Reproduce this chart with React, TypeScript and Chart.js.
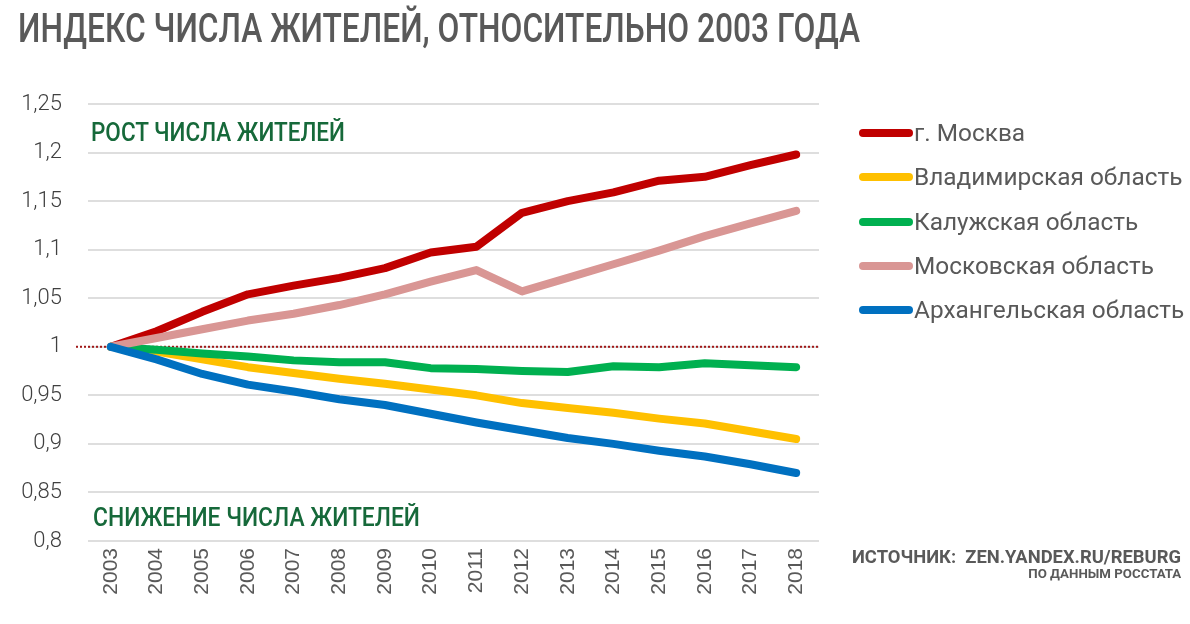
import React, { useEffect, useRef } from 'react';
import { Chart, registerables } from 'chart.js';

Chart.register(...registerables);

const years = ['2003', '2004', '2005', '2006', '2007', '2008', '2009', '2010', '2011', '2012', '2013', '2014', '2015', '2016', '2017', '2018'];

const moscowCity = [1, 1.016, 1.036, 1.054, 1.063, 1.071, 1.081, 1.097, 1.103, 1.138, 1.150, 1.159, 1.171, 1.175, 1.187, 1.198];
const vladimir = [1, 0.995, 0.987, 0.979, 0.973, 0.967, 0.962, 0.956, 0.950, 0.942, 0.937, 0.932, 0.926, 0.921, 0.913, 0.905];
const kaluga = [1, 0.997, 0.993, 0.990, 0.986, 0.984, 0.984, 0.978, 0.977, 0.975, 0.974, 0.980, 0.979, 0.983, 0.981, 0.979];
const moscowRegion = [1, 1.009, 1.018, 1.027, 1.034, 1.043, 1.054, 1.067, 1.079, 1.057, 1.071, 1.085, 1.099, 1.114, 1.127, 1.140];
const arkhangelsk = [1, 0.987, 0.972, 0.961, 0.954, 0.946, 0.940, 0.931, 0.922, 0.914, 0.906, 0.900, 0.893, 0.887, 0.879, 0.870];

const seriesNames = ['г. Москва', 'Владимирская область', 'Калужская область', 'Московская область', 'Архангельская область'];
const seriesValues = [moscowCity, vladimir, kaluga, moscowRegion, arkhangelsk];
const seriesColors = ['#c00000', '#ffc000', '#00b050', '#d99694', '#0070c0'];

const yMin = 0.8;
const yMax = 1.25;
const yStep = 0.05;
const baseline = 1;

const titleText = 'ИНДЕКС ЧИСЛА ЖИТЕЛЕЙ, ОТНОСИТЕЛЬНО 2003 ГОДА';
const growthText = 'РОСТ ЧИСЛА ЖИТЕЛЕЙ';
const declineText = 'СНИЖЕНИЕ ЧИСЛА ЖИТЕЛЕЙ';
const sourceText = 'ИСТОЧНИК:  ZEN.YANDEX.RU/REBURG';
const sourceSubText = 'ПО ДАННЫМ РОССТАТА';

type FitProps = {
  text: string;
  left: number;
  top: number;
  width: number;
  anchorRight?: boolean;
  style: React.CSSProperties;
};

function FitText({ text, left, top, width, anchorRight, style }: FitProps) {
  const ref = useRef<HTMLSpanElement>(null);
  useEffect(() => {
    const el = ref.current;
    if (!el) return;
    el.style.transform = 'none';
    const w = el.getBoundingClientRect().width;
    if (w > 0) el.style.transform = `scaleX(${width / w})`;
  }, [text, width]);
  return (
    <span
      ref={ref}
      style={{
        position: 'absolute',
        left: anchorRight ? undefined : left,
        right: anchorRight ? 1190 - left - width : undefined,
        top,
        whiteSpace: 'pre',
        transformOrigin: anchorRight ? '100% 0' : '0 0',
        lineHeight: 1,
        display: 'inline-block',
        ...style,
      }}
    >
      {text}
    </span>
  );
}

const baselinePlugin = {
  id: 'baselineDots',
  beforeDatasetsDraw(chart: any) {
    const { ctx, chartArea, scales } = chart;
    const y = scales.y.getPixelForValue(baseline);
    ctx.save();
    ctx.strokeStyle = '#a01818';
    ctx.lineWidth = 2;
    ctx.setLineDash([2, 2]);
    ctx.beginPath();
    ctx.moveTo(76, y);
    ctx.lineTo(chartArea.right + 1, y);
    ctx.stroke();
    ctx.restore();
  },
};

export default function App() {
  const canvasRef = useRef<HTMLCanvasElement>(null);

  useEffect(() => {
    if (!canvasRef.current) return;
    const chart = new Chart(canvasRef.current, {
      type: 'line',
      data: {
        labels: years,
        datasets: seriesNames.map((name, i) => ({
          label: name,
          data: seriesValues[i],
          borderColor: seriesColors[i],
          backgroundColor: seriesColors[i],
          borderWidth: 8,
          borderCapStyle: 'round',
          borderJoinStyle: 'round',
          pointRadius: 0,
          tension: 0,
          fill: false,
          order: seriesNames.length - i,
        })),
      },
      options: {
        responsive: false,
        animation: false,
        devicePixelRatio: 1,
        layout: { padding: { top: 104, right: 371, left: 0, bottom: 0 } },
        plugins: { legend: { display: false }, tooltip: { enabled: false }, title: { display: false } },
        scales: {
          x: {
            offset: true,
            grid: { display: false, drawTicks: false },
            border: { display: false },
            ticks: {
              minRotation: 90,
              maxRotation: 90,
              padding: 7,
              color: '#595959',
              font: { family: 'Liberation Sans', size: 21 },
            },
            afterFit(scale: any) {
              scale.height = 83;
            },
          },
          y: {
            min: yMin,
            max: yMax,
            grid: { color: '#dedede', lineWidth: 2, drawTicks: false },
            border: { display: false },
            ticks: {
              stepSize: yStep,
              padding: 26,
              color: '#404040',
              font: { family: 'Roboto', size: 22, weight: '300' },
              callback: (v: any) => String(Number(Number(v).toFixed(2))).replace('.', ','),
            },
            afterFit(scale: any) {
              scale.width = 88;
            },
          },
        },
      },
      plugins: [baselinePlugin],
    } as any);
    return () => chart.destroy();
  }, []);

  const legendCenters = [133, 177, 222, 266, 310];

  return (
    <div style={{ position: 'absolute', left: 0, top: 0, width: 1190, height: 624, background: '#fff', overflow: 'hidden' }}>
      <canvas ref={canvasRef} width={1190} height={624} style={{ position: 'absolute', left: 0, top: 0 }} />
      <FitText text={titleText} left={18} top={9} width={842}
        style={{ fontFamily: 'Roboto', fontSize: 40, fontWeight: 500, color: '#595959' }} />
      <FitText text={growthText} left={91} top={120} width={254}
        style={{ fontFamily: 'Roboto', fontSize: 25, fontWeight: 500, color: '#16693a' }} />
      <FitText text={declineText} left={93} top={505} width={327}
        style={{ fontFamily: 'Roboto', fontSize: 25, fontWeight: 500, color: '#16693a' }} />
      <FitText text={sourceText} left={852} top={548} width={329}
        style={{ fontFamily: 'Roboto', fontSize: 18, fontWeight: 700, color: '#595959' }} />
      <FitText text={sourceSubText} left={1028} top={568} width={153} anchorRight
        style={{ fontFamily: 'Roboto', fontSize: 12, fontWeight: 700, color: '#595959' }} />
      {seriesNames.map((name, i) => (
        <div key={name}>
          <div style={{ position: 'absolute', left: 859, top: legendCenters[i] - 4, width: 54, height: 8, borderRadius: 4, background: seriesColors[i] }} />
          <span style={{ position: 'absolute', left: 914, top: legendCenters[i] - 12, fontFamily: 'Roboto', fontSize: 24.4, lineHeight: 1, color: '#595959', whiteSpace: 'nowrap' }}>
            {name}
          </span>
        </div>
      ))}
    </div>
  );
}
